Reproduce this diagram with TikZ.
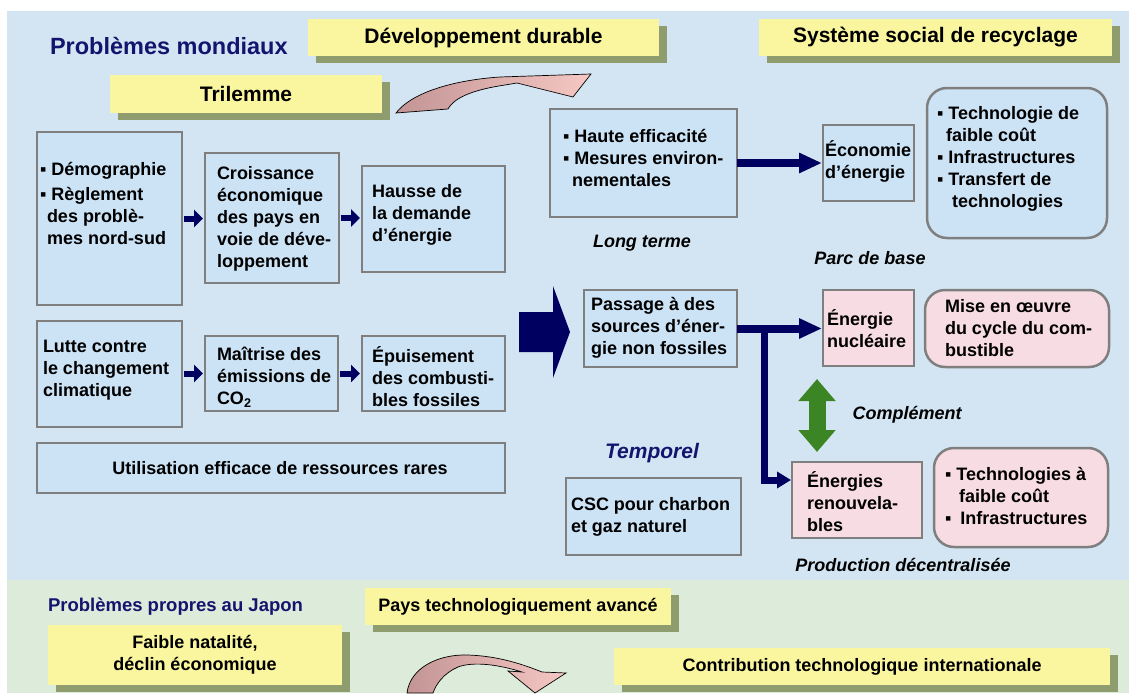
\documentclass[tikz,border=0pt]{standalone}
\usepackage{fontspec}
\setmainfont{Liberation Sans}
\usetikzlibrary{arrows.meta,shadows,fit}

\definecolor{bgblue}{HTML}{D3E5F2}
\definecolor{bggreen}{HTML}{DDEBDA}
\definecolor{boxblue}{HTML}{CCE3F6}
\definecolor{boxpink}{HTML}{F8DCE3}
\definecolor{boxgray}{HTML}{7F7F7F}
\definecolor{yellowc}{HTML}{FAF6A0}
\definecolor{shadowc}{HTML}{8F9C6E}
\definecolor{navy}{HTML}{000060}
\definecolor{titlenavy}{HTML}{14146E}
\definecolor{arrgreen}{HTML}{3C8524}
\definecolor{pdark}{HTML}{C29494}
\definecolor{plight}{HTML}{F6C8C4}

\begin{document}
\begin{tikzpicture}[x=1pt,y=-1pt,
  every node/.style={inner sep=0pt,outer sep=0pt},
  body/.style={font=\fontsize{18}{22}\selectfont\bfseries,align=left,anchor=west},
  ctext/.style={font=\fontsize{18}{22}\selectfont\bfseries,align=center},
  ital/.style={font=\fontsize{18}{22}\selectfont\bfseries\itshape},
  heading/.style={font=\fontsize{21}{25}\selectfont\bfseries},
  bluebox/.style={draw=boxgray,line width=2.5pt,fill=boxblue,inner sep=0pt},
  pinkbox/.style={draw=boxgray,line width=2.5pt,fill=boxpink,inner sep=0pt},
  roundblue/.style={bluebox,rounded corners=20pt},
  roundpink/.style={pinkbox,rounded corners=20pt},
  ybox/.style={fill=yellowc,inner sep=0pt,
    drop shadow={shadow xshift=8pt,shadow yshift=-7pt,opacity=1,fill=shadowc}},
  smallarr/.style={draw=navy,line width=6pt,-{Triangle[length=9pt,width=17pt]},
    shorten <=1.5pt,shorten >=2pt},
  bigarr/.style={draw=navy,line width=8pt,-{Triangle[length=23pt,width=19pt]},shorten >=1pt},
  brancharr/.style={draw=navy,line width=7pt,-{Triangle[length=14pt,width=16pt]},shorten >=1pt},
  greenarr/.style={draw=arrgreen,line width=17pt,
    {Triangle[length=22pt,width=36pt]}-{Triangle[length=22pt,width=36pt]}},
  curved/.style={left color=pdark,right color=plight,draw=black,line width=0.7pt}
]
\useasboundingbox (0,0) rectangle (1129,693);
% page and the two coloured panels
\fill[white] (0,0) rectangle (1129,693);
\fill[bgblue] (7,11) rectangle (1129,580);
\fill[bggreen] (7,580) rectangle (1129,693);

% ---------- headings ----------
\node[font=\fontsize{23.5}{28}\selectfont\bfseries,text=titlenavy,anchor=base west] (pm) at (50,55) {Problèmes mondiaux};
\node[ybox,fit={(308,19) (659,56)}] (dev) {};
\node[heading] (devT) at (dev.center) {Développement durable};
\node[ybox,fit={(110,75) (382,113)}] (tri) {};
\node[heading] (triT) at (tri.center) {Trilemme};
\node[ybox,fit={(759,19) (1112,56)}] (sys) {};
\node[heading] (sysT) at (sys.center) {Système social de recyclage};

% curved arrow under the headings
\shadedraw[curved] (396,113) .. controls (412,92) and (455,80) .. (500,77)
  -- (591,74) -- (573,97) -- (517,83) -- (505,85)
  .. controls (478,89) and (455,96) .. (448,109) -- cycle;

% ---------- left column ----------
\node[bluebox,fit={(37,132) (182,305)}] (demo) {};
\node[body] (demoT) at (40,203) {▪ Démographie\\[3pt]▪ Règlement\\\hspace*{7pt}des problè-\\\hspace*{7pt}mes nord-sud};

\node[bluebox,fit={(205,153) (339,283)}] (crois) {};
\node[body] (croisT) at (217,219) {Croissance\\économique\\des pays en\\voie de déve-\\loppement};

\node[bluebox,fit={(362,166) (505,272)}] (hausse) {};
\node[body] (hausseT) at (372,215) {Hausse de\\la demande\\d’énergie};

\node[bluebox,fit={(37,321) (182,427)}] (lutte) {};
\node[body] (lutteT) at (43,370) {Lutte contre\\le changement\\climatique};

\node[bluebox,fit={(205,336) (338,411)}] (maitr) {};
\node[body] (maitrT) at (217,377) {Maîtrise des\\émissions de\\CO\textsubscript{2}};

\node[bluebox,fit={(362,336) (505,411)}] (epuis) {};
\node[body] (epuisT) at (372,377) {Épuisement\\des combusti-\\bles fossiles};

\node[bluebox,fit={(37,443) (505,493)}] (util) {};
\node[ctext] (utilT) at (280,468) {Utilisation efficace de ressources rares};

\draw[smallarr] (demo.east) -- (demo.east -| crois.west);
\draw[smallarr] (crois.east) -- (crois.east -| hausse.west);
\draw[smallarr] (maitr.west -| lutte.east) -- (maitr.west);
\draw[smallarr] (maitr.east) -- (epuis.west);

% block arrow towards the right half
\fill[navy] (519,312) -- (553,312) -- (553,286) -- (570,332) -- (553,378)
  -- (553,352) -- (519,352) -- cycle;

% ---------- right half ----------
\node[bluebox,fit={(550,109) (737,217)}] (he) {};
\node[body] (heT) at (563,158) {▪ Haute efficacité\\▪ Mesures environ-\\\hspace*{9pt}nementales};

\node[bluebox,fit={(823,125) (914,201)}] (econ) {};
\node[body] (econT) at (825,161) {Économie\\d’énergie};

\node[roundblue,fit={(927,88) (1107,238)}] (techA) {};
\node[body] (techAT) at (937,159) {▪ Technologie de\\\hspace*{9pt}faible coût\\▪ Infrastructures\\▪ Transfert de\\\hspace*{15pt}technologies};

\draw[bigarr] (he.east) -- (econ.west);

\node[ital] (lt) at (642,243) {Long terme};
\node[ital] (pb) at (870,258) {Parc de base};

\node[bluebox,fit={(584,290) (737,367)}] (pass) {};
\node[body] (passT) at (591,328) {Passage à des\\sources d’éner-\\gie non fossiles};

\node[pinkbox,fit={(823,290) (914,366)}] (nuc) {};
\node[body] (nucT) at (827,329) {Énergie\\nucléaire};

\node[roundpink,fit={(925,290) (1109,367)}] (mise) {};
\node[body] (miseT) at (945,328) {Mise en œuvre\\du cycle du com-\\bustible};

\node[pinkbox,fit={(792,462) (922,538)}] (ren) {};
\node[body] (renT) at (807,502) {Énergies\\renouvela-\\bles};

\node[roundpink,fit={(934,448) (1108,547)}] (techB) {};
\node[body] (techBT) at (945,496) {▪ Technologies à\\\hspace*{14pt}faible coût\\▪\hspace*{9pt}Infrastructures};

\node[bluebox,fit={(566,478) (741,555)}] (csc) {};
\node[body] (cscT) at (571,517) {CSC pour charbon\\et gaz naturel};

% connectors from the non-fossil box
\draw[bigarr] (pass.east) -- (pass.east -| nuc.west);
\coordinate (fork) at ([xshift=27pt]pass.east);
\draw[brancharr] (fork) |- ([yshift=20pt]ren.west);

% complementarity arrow
\coordinate (gtop) at (817,379);
\coordinate (gbot) at (817,452);
\draw[greenarr] (gtop) -- (gbot);
\node[ital] (compl) at (907,415) {Complément};

\node[font=\fontsize{21}{25}\selectfont\bfseries\itshape,text=titlenavy] (temp) at (652,453) {Temporel};
\node[ital] (prod) at (903,565) {Production décentralisée};

% ---------- lower panel ----------
\node[font=\fontsize{18.5}{22}\selectfont\bfseries,text=titlenavy,anchor=base west] (pj) at (48,611) {Problèmes propres au Japon};
\node[ybox,fit={(365,588) (671,625)}] (pays) {};
\node[ctext] (paysT) at (pays.center) {Pays technologiquement avancé};
\node[ybox,fit={(48,625) (342,685)}] (faible) {};
\node[ctext] (faibleT) at (faible.center) {Faible natalité,\\déclin économique};
\node[ybox,fit={(614,648) (1110,685)}] (contrib) {};
\node[ctext] (contribT) at (contrib.center) {Contribution technologique internationale};

% curved arrow in the lower panel
\shadedraw[curved] (407,693) .. controls (410,668) and (438,654) .. (468,655)
  .. controls (498,656) and (522,664) .. (542,672)
  -- (566,673) -- (535,693) -- (508,671) -- (522,672)
  .. controls (500,665) and (474,661) .. (458,667)
  .. controls (444,673) and (436,684) .. (433,693) -- cycle;
\end{tikzpicture}
\end{document}
